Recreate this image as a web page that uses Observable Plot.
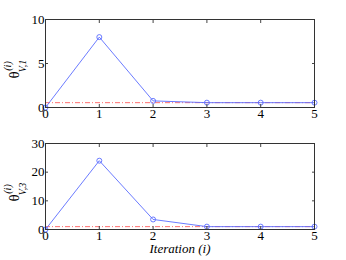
<!DOCTYPE html>
<html><head><meta charset="utf-8">
<script src="https://cdn.jsdelivr.net/npm/d3@7"></script>
<script src="https://cdn.jsdelivr.net/npm/@observablehq/plot@0.6"></script>
<style>
body{margin:0;background:#fff;}
#c svg text{font-family:'Liberation Serif',serif !important;}
</style></head><body><div id="c" style="width:346px;height:260px;"></div>
<script>
const iterations = [0, 1, 2, 3, 4, 5];
const theta1 = [0, 8, 0.75, 0.55, 0.55, 0.55];
const theta3 = [0, 24, 3.5, 1, 1, 1];
const ref1 = 0.55;
const ref3 = 1;
const xTicks = [0, 1, 2, 3, 4, 5];
const yTicks1 = [0, 5, 10];
const yTicks3 = [0, 10, 20, 30];

const blue = "#5a6cff";
const red = "#ff7070";
const font = "'Liberation Serif', serif";

function panel(vals, ref, yTicks, ymax, mt, mb, sub, xlabel) {
  const data = iterations.map((x, i) => ({x, y: vals[i]}));
  const p = Plot.plot({
    width: 346, height: 130,
    marginLeft: 45, marginRight: 32, marginTop: mt, marginBottom: mb,
    style: {fontFamily: font, fontSize: "13px", color: "#000", background: "#fff", display: "block"},
    x: {domain: [0, 5], label: null},
    y: {domain: [0, ymax], label: null},
    marks: [
      Plot.ruleY([ref], {stroke: red, strokeWidth: 1, strokeDasharray: "5,2,1,2"}),
      Plot.line(data, {x: "x", y: "y", stroke: blue, strokeWidth: 0.9}),
      Plot.dot(data, {x: "x", y: "y", r: 2.5, stroke: blue, strokeWidth: 0.9, fill: "none"}),
      Plot.axisX(xTicks, {anchor: "bottom", tickSize: 0, tickPadding: 1, label: null}),
      Plot.axisX(xTicks, {anchor: "bottom", tickSize: -3, text: null, label: null, stroke: "#444"}),
      Plot.axisX(xTicks, {anchor: "top", tickSize: -3, text: null, label: null, stroke: "#444"}),
      Plot.axisY(yTicks, {anchor: "left", tickSize: 0, tickPadding: 1, label: null}),
      Plot.axisY(yTicks, {anchor: "left", tickSize: -3, text: null, label: null, stroke: "#444"}),
      Plot.axisY(yTicks, {anchor: "right", tickSize: -3, text: null, label: null, stroke: "#444"}),
      Plot.frame({stroke: "#333", strokeWidth: 1})
    ]
  });
  const svg = d3.select(p);
  const cy = mt + (130 - mt - mb) / 2;
  const g = svg.append("g")
    .attr("transform", `translate(19,${cy}) rotate(-90)`)
    .attr("fill", "#000");
  g.append("text").attr("x", -12).attr("y", 0).attr("font-size", 15).text("θ");
  g.append("text").attr("x", -3).attr("y", -8).attr("font-size", 10).attr("font-style", "italic").text("(i)");
  g.append("text").attr("x", -3).attr("y", 7).attr("font-size", 10).attr("font-style", "italic").text("V," + sub);
  if (xlabel) {
    svg.append("text")
      .attr("x", 180).attr("y", 123)
      .attr("text-anchor", "middle")
      .attr("font-style", "italic")
      .attr("font-size", 13)
      .attr("fill", "#000")
      .text(xlabel);
  }
  return p;
}

const c = document.getElementById("c");
c.appendChild(panel(theta1, ref1, yTicks1, 10, 19, 23, "1", null));
c.appendChild(panel(theta3, ref3, yTicks3, 30, 13, 31, "3", "Iteration (i)"));
</script></body></html>
